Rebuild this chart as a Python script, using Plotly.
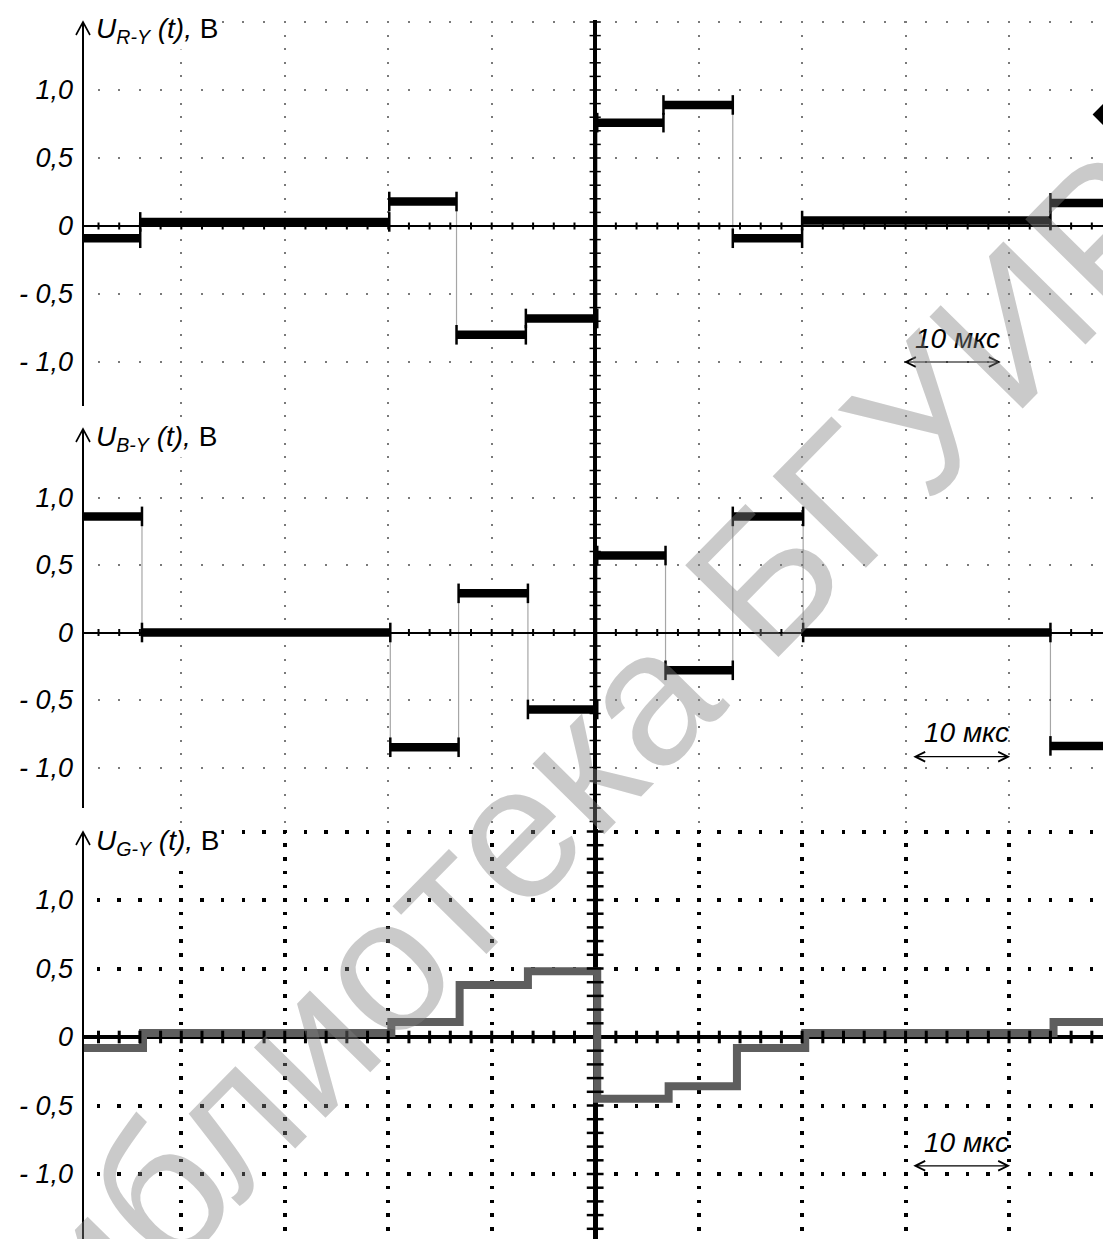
import plotly.graph_objects as go

# ---- signal data: transition instants (µs) and plateau levels (V) ----
t_start, t_end = -49.5, 49.08

t_edges_ry = [-43.97, -19.9, -13.4, -6.7, 0.2, 6.6, 13.3, 20.0, 44.0]
u_ry = [-0.09, 0.03, 0.18, -0.80, -0.68, 0.76, 0.89, -0.09, 0.04, 0.17]

t_edges_by = [-43.8, -19.8, -13.2, -6.5, 0.2, 6.8, 13.3, 20.1, 44.0]
u_by = [0.86, 0.0, -0.85, 0.29, -0.57, 0.57, -0.28, 0.86, 0.0, -0.84]

t_edges_gy = [-43.7, -19.7, -13.1, -6.5, 0.2, 7.1, 13.7, 20.3, 44.3]
u_gy = [-0.08, 0.03, 0.11, 0.38, 0.48, -0.45, -0.36, -0.08, 0.03, 0.11]

y_tickvals = [-1.5, -1.0, -0.5, 0.0, 0.5, 1.0, 1.5]
y_ticktext = ["", "- 1,0", "- 0,5", "0", "0,5", "1,0", ""]

titles = ["<i>U<sub>R-Y</sub> (t),</i> В", "<i>U<sub>B-Y</sub> (t),</i> В", "<i>U<sub>G-Y</sub> (t),</i> В"]
scale_label = "<i>10 мкс</i>"
watermark = "библиотека БГУИР"

# ---- page geometry ----
W, H = 1103, 1239
L = 83
FONT = "Liberation Sans, Arial, sans-serif"
sx = (W - L) / (t_end - t_start)          # px per µs


def xp(px):
    return (px - L) / (W - L)


def yp(py):
    return 1 - py / H


def dotted(offset, period, size):
    """dash pattern giving square dots of `size` px, centred at offset + k*period"""
    start = (offset - size / 2) % period
    if start + size <= period:
        return f"0px,{start:.2f}px,{size}px,{period - size - start:.2f}px"
    first = start + size - period
    return f"{first:.2f}px,{start - first:.2f}px,{period - start:.2f}px,0px"


# panel layout: pixel position of zero, px per volt, domain top/bottom, styling
panels = [
    dict(zero=226, sv=136, top=20, bot=430, dot=2, dotc="#7a7a7a", zw=2, cw=3.5,
         tick_h=5, tick_c=8, tw=2, trace="black", layer="below traces"),
    dict(zero=632.5, sv=135, top=430, bot=835, dot=2, dotc="#7a7a7a", zw=2, cw=3.5,
         tick_h=5, tick_c=8, tw=2, trace="black", layer="below traces"),
    dict(zero=1037, sv=137, top=829, bot=1239, dot=3.5, dotc="black", zw=3.5, cw=5,
         tick_h=9, tick_c=12, tw=3, trace="#5e5e5e", layer="above traces"),
]
edges_all = [t_edges_ry, t_edges_by, t_edges_gy]
levels_all = [u_ry, u_by, u_gy]

fig = go.Figure()
layout = dict(width=W, height=H, margin=dict(l=L, r=0, t=0, b=0),
              paper_bgcolor="white", plot_bgcolor="white", showlegend=False)

for i, p in enumerate(panels):
    n = "" if i == 0 else str(i + 1)
    xa, ya = "x" + n, "y" + n
    v_top = (p["zero"] - p["top"]) / p["sv"]
    v_bot = (p["zero"] - p["bot"]) / p["sv"]
    dom = [yp(p["bot"]), yp(p["top"])]

    # grid dot phases: horizontal rows run left->right, vertical columns top->bottom
    h_off = (-48 - t_start) * sx
    h_dash = dotted(h_off, 2 * sx, p["dot"])
    v_first = int(v_top * 10 + 1e-9) / 10
    v_dash = dotted((v_top - v_first) * p["sv"], 0.1 * p["sv"], p["dot"])

    layout["xaxis" + n] = dict(
        domain=[0, 1], anchor=ya, range=[t_start, t_end], tick0=0, dtick=10,
        showgrid=True, gridcolor=p["dotc"], gridwidth=p["dot"], griddash=v_dash,
        zeroline=True, zerolinecolor="black", zerolinewidth=p["cw"],
        showticklabels=False, ticks="", showline=False, layer=p["layer"],
        **({} if i == 0 else dict(matches="x")))
    layout["yaxis" + n] = dict(
        domain=dom, anchor=xa, range=[v_bot, v_top],
        tickmode="array", tickvals=y_tickvals, ticktext=y_ticktext,
        showgrid=True, gridcolor=p["dotc"], gridwidth=p["dot"], griddash=h_dash,
        zeroline=True, zerolinecolor="black", zerolinewidth=p["zw"],
        ticks="", showline=False, ticklabelstandoff=9, layer=p["layer"],
        tickfont=dict(family=FONT, size=27, color="black", style="italic"))

    edges = edges_all[i]
    levels = levels_all[i]
    bounds = [t_start] + edges + [t_end]

    if i < 2:
        # faint fast edges
        sx_, sy_ = [], []
        for k, v in enumerate(levels):
            sx_ += [bounds[k], bounds[k + 1]]
            sy_ += [v, v]
        fig.add_trace(go.Scatter(x=sx_, y=sy_, mode="lines", xaxis=xa, yaxis=ya,
                                 line=dict(color="rgba(0,0,0,0.35)", width=1.2),
                                 hoverinfo="skip"))
        # noisy plateaus
        px_, py_ = [], []
        for k, v in enumerate(levels):
            px_ += [bounds[k], bounds[k + 1], None]
            py_ += [v, v, None]
        fig.add_trace(go.Scatter(x=px_, y=py_, mode="lines", xaxis=xa, yaxis=ya,
                                 line=dict(color="black", width=8.5), hoverinfo="skip"))
        # overshoot at both ends of every plateau
        ex, ey = [], []
        for k, t in enumerate(edges):
            ex += [t, t]
            ey += [levels[k], levels[k + 1]]
        fig.add_trace(go.Scatter(x=ex, y=ey, mode="markers", xaxis=xa, yaxis=ya,
                                 marker=dict(symbol="line-ns-open", size=14, color="black",
                                             line=dict(color="black", width=2.5)),
                                 hoverinfo="skip"))
    else:
        sx_, sy_ = [], []
        for k, v in enumerate(levels):
            sx_ += [bounds[k], bounds[k + 1]]
            sy_ += [v, v]
        fig.add_trace(go.Scatter(x=sx_, y=sy_, mode="lines", xaxis=xa, yaxis=ya,
                                 line=dict(color=p["trace"], width=8), hoverinfo="skip"))

    # scale ticks on the time axis and on the centre axis
    tt = [2 * k for k in range(-24, 25) if k != 0]
    fig.add_trace(go.Scatter(x=tt, y=[0] * len(tt), mode="markers", xaxis=xa, yaxis=ya,
                             marker=dict(symbol="line-ns-open", size=p["tick_h"], color="black",
                                         line=dict(color="black", width=p["tw"])),
                             hoverinfo="skip"))
    vv = [k / 10 for k in range(-15, 16) if k != 0]
    fig.add_trace(go.Scatter(x=[0] * len(vv), y=vv, mode="markers", xaxis=xa, yaxis=ya,
                             marker=dict(symbol="line-ew-open", size=p["tick_c"], color="black",
                                         line=dict(color="black", width=p["tw"] - 0.5)),
                             hoverinfo="skip"))

# trigger marker at the right edge of the top screen
fig.add_trace(go.Scatter(x=[t_end], y=[0.82], mode="markers", xaxis="x", yaxis="y",
                         marker=dict(symbol="diamond", size=16, color="black"),
                         cliponaxis=True, hoverinfo="skip"))

fig.update_layout(**layout)

shapes = []
annotations = []
axis_spans = [(22, 406, 30), (429, 808, 438), (832, 1239, 842)]
for i, (ytop, ybot, ytitle) in enumerate(axis_spans):
    # vertical axis with open arrow head
    shapes.append(dict(type="line", xref="paper", yref="paper", x0=0, x1=0,
                       y0=yp(ytop), y1=yp(ybot), line=dict(color="black", width=2)))
    shapes.append(dict(type="path", xref="paper", yref="paper",
                       path=f"M{xp(76)},{yp(ytop + 13)} L{xp(83)},{yp(ytop)} L{xp(90)},{yp(ytop + 13)}",
                       line=dict(color="black", width=1.6)))
    annotations.append(dict(xref="paper", yref="paper", x=xp(94), y=yp(ytitle),
                            xanchor="left", yanchor="middle", text=titles[i],
                            showarrow=False, bgcolor="white", borderpad=1,
                            font=dict(family=FONT, size=28, color="black")))

# 10 µs scale markers
scale_pos = [(29.7, -1.0, -0.83), (30.6, -0.92, -0.74), (30.6, -0.94, -0.77)]
for i, (t0, v_arrow, v_text) in enumerate(scale_pos):
    n = "" if i == 0 else str(i + 1)
    annotations.append(dict(xref="x" + n, yref="y" + n, axref="x" + n, ayref="y" + n,
                            x=t0 + 9.5, y=v_arrow, ax=t0, ay=v_arrow, text="",
                            showarrow=True, arrowhead=5, startarrowhead=5,
                            arrowside="end+start", arrowsize=1.6, startarrowsize=1.6,
                            arrowwidth=1.2, arrowcolor="black"))
    annotations.append(dict(xref="x" + n, yref="y" + n, x=t0 + 5.3, y=v_text,
                            text=scale_label, showarrow=False,
                            font=dict(family=FONT, size=28, color="black")))

annotations.append(dict(xref="paper", yref="paper", x=xp(560), y=yp(785),
                        text=watermark, showarrow=False, textangle=-45.5,
                        xanchor="center", yanchor="middle",
                        font=dict(family=FONT, size=190, color="rgba(128,128,128,0.42)")))

fig.update_layout(shapes=shapes, annotations=annotations)
fig.write_html("out.html")
